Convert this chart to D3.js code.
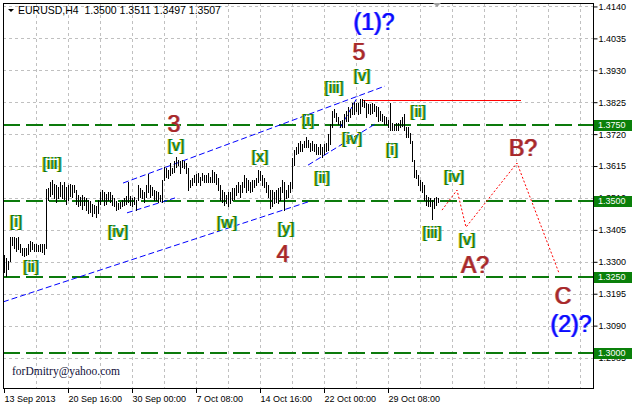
<!DOCTYPE html>
<html><head><meta charset="utf-8">
<script src="https://cdn.jsdelivr.net/npm/d3@7/dist/d3.min.js"></script>
<style>html,body{margin:0;padding:0;background:#fff;} svg{display:block;}</style>
</head><body><svg id="c" width="632" height="407"></svg>
<script>
// ---------- data ----------
const symbolTitle = "EURUSD,H4";
const lastOHLC = ["1.3500", "1.3511", "1.3497", "1.3507"];
const highs = [
1.3324,1.3314,1.3301,1.3383,1.3383,1.3380,1.3377,1.3383,1.3357,1.3347,
1.3344,1.3347,1.3357,1.3367,1.3364,1.3360,1.3357,1.3354,1.3360,1.3357,
1.3360,1.3541,1.3544,1.3564,1.3570,1.3557,1.3551,1.3547,1.3561,1.3554,
1.3564,1.3547,1.3551,1.3557,1.3551,1.3554,1.3537,1.3521,1.3514,1.3521,
1.3514,1.3511,1.3504,1.3501,1.3491,1.3488,1.3485,1.3504,1.3531,1.3537,
1.3528,1.3524,1.3531,1.3528,1.3521,1.3511,1.3501,1.3495,1.3498,1.3504,
1.3511,1.3518,1.3561,1.3518,1.3511,1.3514,1.3504,1.3551,1.3544,1.3537,
1.3528,1.3554,1.3590,1.3554,1.3547,1.3537,1.3534,1.3528,1.3521,1.3570,
1.3613,1.3610,1.3603,1.3626,1.3610,1.3630,1.3646,1.3636,1.3630,1.3636,
1.3630,1.3626,1.3610,1.3570,1.3577,1.3584,1.3590,1.3593,1.3580,1.3593,
1.3587,1.3584,1.3593,1.3580,1.3603,1.3597,1.3590,1.3577,1.3554,1.3537,
1.3528,1.3521,1.3531,1.3528,1.3544,1.3544,1.3554,1.3564,1.3554,1.3564,
1.3584,1.3577,1.3570,1.3561,1.3570,1.3570,1.3577,1.3603,1.3600,1.3587,
1.3577,1.3561,1.3554,1.3537,1.3537,1.3528,1.3537,1.3544,1.3547,1.3570,
1.3564,1.3537,1.3554,1.3564,1.3643,1.3669,1.3679,1.3692,1.3696,1.3686,
1.3696,1.3709,1.3702,1.3692,1.3696,1.3686,1.3689,1.3679,1.3686,1.3679,
1.3686,1.3692,1.3719,1.3752,1.3795,1.3801,1.3791,1.3775,1.3762,1.3768,
1.3785,1.3795,1.3808,1.3801,1.3824,1.3827,1.3824,1.3821,1.3834,1.3834,
1.3831,1.3824,1.3818,1.3818,1.3824,1.3818,1.3814,1.3808,1.3795,1.3785,
1.3778,1.3775,1.3768,1.3824,1.3758,1.3752,1.3755,1.3758,1.3765,1.3775,
1.3785,1.3745,1.3742,1.3725,1.3696,1.3636,1.3603,1.3587,1.3570,1.3561,
1.3554,1.3521,1.3514,1.3511,1.3504,1.3511,1.3514,1.3511];
const lows = [
1.3268,1.3252,1.3275,1.3301,1.3354,1.3344,1.3337,1.3341,1.3331,1.3324,
1.3318,1.3321,1.3327,1.3337,1.3341,1.3334,1.3337,1.3334,1.3337,1.3331,
1.3327,1.3347,1.3504,1.3518,1.3524,1.3511,1.3498,1.3511,1.3518,1.3511,
1.3508,1.3491,1.3504,1.3518,1.3514,1.3528,1.3491,1.3485,1.3488,1.3475,
1.3488,1.3472,1.3459,1.3465,1.3452,1.3459,1.3446,1.3459,1.3491,1.3504,
1.3488,1.3491,1.3504,1.3498,1.3488,1.3482,1.3472,1.3475,1.3478,1.3482,
1.3488,1.3491,1.3498,1.3488,1.3482,1.3491,1.3472,1.3504,1.3514,1.3511,
1.3498,1.3514,1.3528,1.3514,1.3521,1.3504,1.3504,1.3498,1.3501,1.3498,
1.3570,1.3580,1.3577,1.3587,1.3593,1.3597,1.3613,1.3617,1.3593,1.3613,
1.3610,1.3593,1.3537,1.3547,1.3554,1.3561,1.3554,1.3561,1.3554,1.3570,
1.3561,1.3561,1.3564,1.3561,1.3564,1.3564,1.3557,1.3537,1.3504,1.3498,
1.3488,1.3495,1.3485,1.3495,1.3504,1.3508,1.3521,1.3531,1.3514,1.3528,
1.3547,1.3531,1.3537,1.3528,1.3534,1.3547,1.3554,1.3561,1.3570,1.3554,
1.3547,1.3528,1.3514,1.3478,1.3485,1.3495,1.3498,1.3495,1.3504,1.3528,
1.3472,1.3511,1.3514,1.3531,1.3544,1.3620,1.3653,1.3659,1.3663,1.3663,
1.3676,1.3676,1.3679,1.3663,1.3669,1.3663,1.3653,1.3653,1.3653,1.3646,
1.3653,1.3663,1.3669,1.3686,1.3742,1.3775,1.3762,1.3752,1.3742,1.3745,
1.3745,1.3762,1.3762,1.3775,1.3785,1.3785,1.3795,1.3785,1.3791,1.3811,
1.3808,1.3775,1.3791,1.3785,1.3791,1.3795,1.3781,1.3762,1.3768,1.3762,
1.3752,1.3752,1.3742,1.3735,1.3735,1.3735,1.3735,1.3735,1.3742,1.3748,
1.3735,1.3712,1.3709,1.3692,1.3630,1.3580,1.3577,1.3554,1.3537,1.3531,
1.3504,1.3488,1.3482,1.3482,1.3442,1.3478,1.3488,1.3497];

const priceTicks = [1.4140,1.4035,1.3930,1.3825,1.3720,1.3615,1.3510,1.3405,1.3300,1.3195,1.3090,1.2985];
const levelPrices = [1.3750, 1.3500, 1.3250, 1.3000];
const timeTickBars = [0, 32, 64, 96, 128, 160, 192];
const timeTickLabels = ["13 Sep 2013","20 Sep 16:00","30 Sep 00:00","7 Oct 08:00","14 Oct 16:00","22 Oct 00:00","29 Oct 08:00"];

// minuette wave labels (green)
const minorText  = ["[i]","[ii]","[iii]","[iv]","[v]","[w]","[x]","[y]","[i]","[ii]","[iii]","[iv]","[v]","[i]","[ii]","[iii]","[iv]","[v]"];
const minorBar   = [5.75,13.25,23.75,56.75,85.75,111.25,127.75,140.75,151.75,158.75,164.75,173.75,178.75,193.75,206.75,213.75,224.75,231.25];
const minorPrice = [1.3431,1.3286,1.3622,1.3401,1.3681,1.3428,1.3645,1.3408,1.3766,1.3576,1.3872,1.3704,1.3914,1.3671,1.3793,1.3395,1.3582,1.3372];
// minor wave labels (red-brown)
const majorText  = ["3","4","5","A?","B?","C"];
const majorBar   = [84.75,139.25,177.25,235.25,259.25,279.25];
const majorPrice = [1.3753,1.3326,1.3990,1.3289,1.3674,1.3187];
// intermediate wave labels (blue)
const topText  = ["(1)?","(2)?"];
const topBar   = [184.75,283.25];
const topPrice = [1.4089,1.3095];

// blue trend-channel segments
const channelStartBar  = [-0.75, 59.25, 61.25, 151.75, 167.75];
const channelStartPrc  = [1.3168, 1.3559, 1.3461, 1.3618, 1.3740];
const channelEndBar    = [151.75, 190.25, 85.25, 185.25, 176.75];
const channelEndPrc    = [1.3497, 1.3878, 1.3510, 1.3753, 1.3845];

// red resistance line at the top
const resistancePrice = 1.3832;
const resistanceBars = [178.75, 258.25];

// red dotted forecast path
const forecastBar   = [218.75, 226.25, 230.75, 256.25, 277.25];
const forecastPrice = [1.3470, 1.3536, 1.3414, 1.3625, 1.3263];

// ---------- layout ----------
const W = 632, H = 407;
const L = 3, T = 3, R = 593, B = 388;
const svg = d3.select("#c");
const FONT = "'Liberation Sans', Arial, sans-serif";

const x = d3.scaleLinear().domain([0, 1]).range([4.5, 6.5]);
const y = d3.scaleLinear().domain([1.3750, 1.3000]).range([125, 353]);

svg.append("rect").attr("width", W).attr("height", H).attr("fill", "#fff");
svg.append("defs").append("clipPath").attr("id", "plot")
  .append("rect").attr("x", L).attr("y", T).attr("width", R - L).attr("height", B - T);

const plot = svg.append("g").attr("clip-path", "url(#plot)");

// grid
const gridX = d3.range(1, 19).map(k => x(16 * k) - 1);
plot.append("g").selectAll("line").data(gridX).join("line")
  .attr("x1", d => Math.round(d) + 0.5).attr("x2", d => Math.round(d) + 0.5)
  .attr("y1", T).attr("y2", B)
  .attr("stroke", "#c0c0c0").attr("stroke-dasharray", "3,3");
plot.append("g").selectAll("line").data(priceTicks).join("line")
  .attr("x1", L).attr("x2", R)
  .attr("y1", d => Math.round(y(d)) + 0.5).attr("y2", d => Math.round(y(d)) + 0.5)
  .attr("stroke", "#c0c0c0").attr("stroke-dasharray", "3,3");

// level lines
plot.append("g").selectAll("line").data(levelPrices).join("line")
  .attr("x1", L).attr("x2", R)
  .attr("y1", d => y(d)).attr("y2", d => y(d))
  .attr("stroke", "#0c7a0c").attr("stroke-width", 2).attr("stroke-dasharray", "17,6");

// channels
plot.append("g").selectAll("line").data(channelStartBar.map((b, k) => k)).join("line")
  .attr("x1", k => x(channelStartBar[k])).attr("y1", k => y(channelStartPrc[k]))
  .attr("x2", k => x(channelEndBar[k])).attr("y2", k => y(channelEndPrc[k]))
  .attr("stroke", "#0000ff").attr("stroke-width", 1).attr("stroke-dasharray", "6,3");

// resistance
plot.append("line")
  .attr("x1", x(resistanceBars[0])).attr("x2", x(resistanceBars[1]))
  .attr("y1", Math.round(y(resistancePrice)) + 0.5).attr("y2", Math.round(y(resistancePrice)) + 0.5)
  .attr("stroke", "#ff0000").attr("stroke-width", 1);

// bars (high-low)
plot.append("g").selectAll("line").data(highs.map((h, i) => i)).join("line")
  .attr("x1", i => x(i)).attr("x2", i => x(i))
  .attr("y1", i => Math.round(y(highs[i]))).attr("y2", i => Math.round(y(lows[i])) + 1)
  .attr("stroke", "#000").attr("stroke-width", 1);

// forecast
const fLine = d3.line().x(k => x(forecastBar[k])).y(k => y(forecastPrice[k]));
plot.append("path").attr("d", fLine(forecastBar.map((b, k) => k)))
  .attr("fill", "none").attr("stroke", "#ff0000").attr("stroke-width", 1).attr("stroke-dasharray", "2,2");

// labels
function fringeText(g, t, cx, cy, size, col, lcol, rcol) {
  [[-0.7, lcol], [0.7, rcol], [0, col]].forEach(([dx, c]) => {
    g.append("text").attr("x", cx + dx).attr("y", cy).text(t)
      .attr("text-anchor", "middle").attr("dominant-baseline", "central")
      .attr("font-family", FONT).attr("font-size", size).attr("fill", c);
  });
}
const lab = plot.append("g");
minorText.forEach((t, k) => fringeText(lab, t, x(minorBar[k]), y(minorPrice[k]), 16, "#1a7406", "#d0c800", "#30c0b8"));
majorText.forEach((t, k) => fringeText(lab, t, x(majorBar[k]), y(majorPrice[k]), 23, "#a8282a", "#c07070", "#c07070"));
topText.forEach((t, k) => fringeText(lab, t, x(topBar[k]), y(topPrice[k]), 23, "#0a0aff", "#7070ff", "#7070ff"));

// email
svg.append("text").attr("x", 12).attr("y", 375).text("forDmitry@yahoo.com")
  .attr("font-family", "'Liberation Serif', 'Times New Roman', serif").attr("font-size", 11.5).attr("fill", "#10103a");

// frame
svg.append("rect").attr("x", L + 0.5).attr("y", T + 0.5).attr("width", R - L).attr("height", B - T)
  .attr("fill", "none").attr("stroke", "#000");

// title
svg.append("path").attr("d", "M8,9 L14,9 L11,12 Z").attr("fill", "#000");
svg.append("text").attr("x", 18).attr("y", 14)
  .text(symbolTitle + "\u00a0\u00a0" + lastOHLC.join(" "))
  .attr("font-family", FONT).attr("font-size", 10.5).attr("fill", "#000");

// shift marker
svg.append("path").attr("d", "M433,3 L441,3 L437,7 Z").attr("fill", "#a0a0a0");

// right axis
const yAxis = d3.axisRight(y).tickValues(priceTicks).tickFormat(d3.format(".4f")).tickSize(4).tickPadding(1);
const ya = svg.append("g").attr("transform", `translate(${R + 0.5},0)`).call(yAxis);
ya.select(".domain").remove();
ya.selectAll("text").attr("font-family", FONT).attr("font-size", 9).attr("fill", "#000");
ya.selectAll("line").attr("stroke", "#000");

// level tags
const tags = svg.append("g").selectAll("g").data(levelPrices).join("g");
tags.append("rect").attr("x", R + 1).attr("y", d => y(d) - 5).attr("width", W - R - 1).attr("height", 11).attr("fill", "#0a800a");
tags.append("text").attr("x", R + 5).attr("y", d => y(d)).attr("dy", "0.35em").text(d3.format(".4f"))
  .attr("font-family", FONT).attr("font-size", 9).attr("fill", "#fff");

// bottom axis
const xa = svg.append("g");
timeTickBars.forEach((b, k) => {
  const tx = Math.round(x(b) - 1) + 0.5;
  xa.append("line").attr("x1", tx).attr("x2", tx).attr("y1", B).attr("y2", B + 5).attr("stroke", "#000");
  xa.append("text").attr("x", tx).attr("y", 402).text(timeTickLabels[k])
    .attr("font-family", FONT).attr("font-size", 9).attr("fill", "#000");
});
</script></body></html>
